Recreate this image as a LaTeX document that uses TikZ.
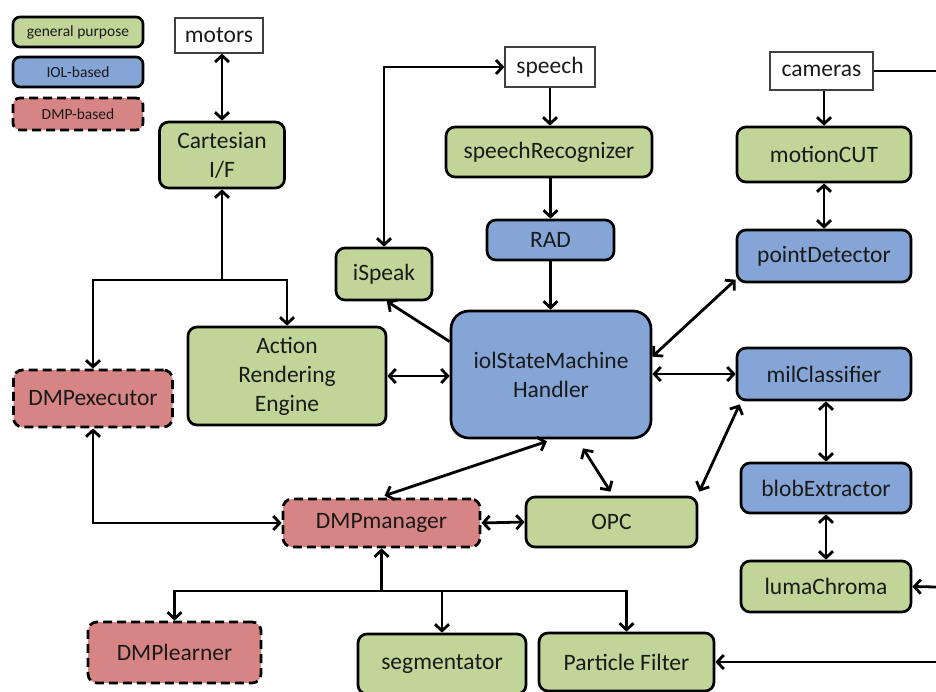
\documentclass[tikz,border=0pt]{standalone}
\usepackage{fontspec}
\setmainfont{Carlito}
\usetikzlibrary{arrows.meta,calc}
\definecolor{gfill}{HTML}{C0D597}
\definecolor{bfill}{HTML}{84A5D6}
\definecolor{rfill}{HTML}{D68584}
\definecolor{tcol}{HTML}{1A1A1A}
\begin{document}
\begin{tikzpicture}[x=1pt,y=-1pt,
  >={Straight Barb[length=6.5pt,width=14pt]},
  box/.style={draw=black, line width=2.7pt, rounded corners=9pt, text=tcol,
    font=\fontsize{23.5}{29}\selectfont, align=center, inner sep=0pt},
  gbox/.style={box, fill=gfill},
  bbox/.style={box, fill=bfill},
  rbox/.style={box, fill=rfill, dash pattern=on 9pt off 5pt},
  lgd/.style={font=\fontsize{15.5}{18}\selectfont, rounded corners=7pt,
    minimum width=130pt, minimum height=30pt},
  io/.style={draw=black!75, line width=1.2pt, fill=white, text=tcol,
    font=\fontsize{23.5}{28}\selectfont, inner sep=0pt},
  con/.style={line width=2.8pt, draw=black}]
\clip (0,0) rectangle (936,691);
\fill[white] (0,0) rectangle (936,691);
% legend
\node[gbox,lgd] (lg1) at (78,32) {general purpose};
\node[bbox,lgd] (lg2) at (78,72) {IOL-based};
\node[rbox,lgd,minimum height=32pt] (lg3) at (78,114) {DMP-based};
% io boxes
\node[io,minimum width=88pt,minimum height=35pt] (motors) at (219,35.5) {motors};
\node[io,minimum width=90pt,minimum height=40pt] (speech) at (550,67) {speech};
\node[io,minimum width=103pt,minimum height=38pt] (cameras) at (821.5,71) {cameras};
% modules
\node[gbox,minimum width=125pt,minimum height=66pt] (cart) at (222,155) {Cartesian\\I/F};
\node[gbox,minimum width=206pt,minimum height=50pt] (srec) at (549,152) {speechRecognizer};
\node[gbox,minimum width=174pt,minimum height=55pt] (motion) at (824,154.5) {motionCUT};
\node[bbox,minimum width=127pt,minimum height=40pt] (rad) at (550.5,240) {RAD};
\node[bbox,minimum width=174pt,minimum height=52pt] (pdet) at (824,256) {pointDetector};
\node[gbox,minimum width=96pt,minimum height=52pt] (ispeak) at (384,274) {iSpeak};
\node[gbox,minimum width=198pt,minimum height=98pt] (are) at (287,376) {Action\\Rendering\\Engine};
\node[bbox,minimum width=200pt,minimum height=127pt,rounded corners=18pt] (iol) at (551,374.5) {iolStateMachine\\Handler};
\node[bbox,minimum width=174pt,minimum height=52pt] (mil) at (824,374) {milClassifier};
\node[rbox,minimum width=159pt,minimum height=57pt] (dexec) at (93,398.5) {DMPexecutor};
\node[bbox,minimum width=170pt,minimum height=50pt] (blob) at (826,488) {blobExtractor};
\node[rbox,minimum width=197pt,minimum height=48pt] (dman) at (381.5,523) {DMPmanager};
\node[gbox,minimum width=171pt,minimum height=50pt] (opc) at (611.5,522) {OPC};
\node[gbox,minimum width=170pt,minimum height=51pt] (luma) at (826,586.5) {lumaChroma};
\node[rbox,minimum width=173pt,minimum height=61pt] (dlearn) at (174.5,652.5) {DMPlearner};
\node[gbox,minimum width=168pt,minimum height=60pt] (seg) at (442,664) {segmentator};
\node[gbox,minimum width=175pt,minimum height=58pt] (pf) at (626.5,662) {Particle Filter};
% free ends
\coordinate (j1) at (222,280);
\coordinate (j2) at (381.5,591);
\coordinate (ce) at (936,71);
\coordinate (le) at (936,587);
\coordinate (pe) at (936,662);
% connectors
\draw[con,<->] (cart.north |- motors.south) -- (cart.north);
\draw[con,->] (j1) -- (cart.south);
\draw[con,->] (j1) -| (dexec.north);
\draw[con,->] (j1) -| (are.north);
\draw[con,<->] (ispeak.north) |- (speech.west);
\draw[con,->] (speech.south) -- (speech.south |- srec.north);
\draw[con,->] (srec.south -| rad.north) -- (rad.north);
\draw[con,->] (rad.south) -- (rad.south |- iol.north);
\draw[con,->] (cameras.south -| motion.north) -- (motion.north);
\draw[con] (cameras.east) -- (ce);
\draw[con,<->] (motion.south) -- (pdet.north);
\draw[con,<->] (iol.10) -- (pdet.195);
\draw[con,->] (iol.162) -- (ispeak.-84);
\draw[con,<->] (are.east) -- (are.east -| iol.west);
\draw[con,<->] (mil.west -| iol.east) -- (mil.west);
\draw[con,<->] (blob.north |- mil.south) -- (blob.north);
\draw[con,<->] (blob.south) -- (luma.north);
\draw[con,->] (le) -- (luma.east);
\draw[con,->] (pe) -- (pf.east);
\draw[con,<->] ($(mil.south west)+(4,3)$) -- ($(opc.north east)+(1,-4)$);
\draw[con,<->] ($(iol.south)+(32,9)$) -- ($(opc.north)+(-1,-4)$);
\draw[con,<->] ($(iol.south)+(-4,2)$) -- ($(dman.north)+(3,-2)$);
\draw[con,<->] (dman.east) -- (opc.west);
\draw[con,<->] (dexec.south) |- (dman.west);
\draw[con,->] (j2) -- (dman.south);
\draw[con,->] (j2) -| (dlearn.north);
\draw[con,->] (j2) -| (seg.north);
\draw[con,->] (j2) -| (pf.north);
\end{tikzpicture}
\end{document}
